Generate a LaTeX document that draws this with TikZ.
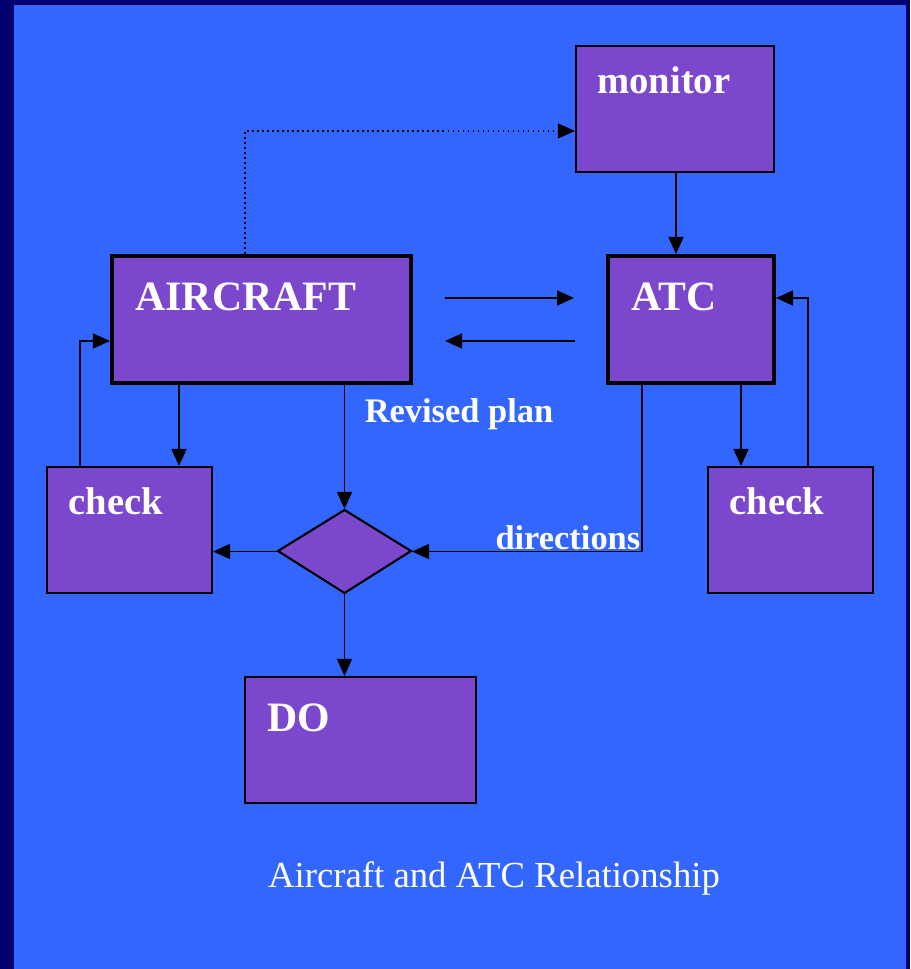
\documentclass[tikz,border=0pt]{standalone}
\usepackage{fontspec}
\setmainfont{Liberation Serif}
\usetikzlibrary{calc,positioning,arrows.meta,fit}
\definecolor{slidenavy}{RGB}{0,0,112}
\definecolor{slideblue}{RGB}{51,102,255}
\definecolor{boxpurple}{RGB}{123,71,204}
\makeatletter
\tikzset{
  fitting node/.style={
    inner sep=0pt,
    fill=none,
    draw=none,
    reset transform,
    fit={(\pgf@pathminx,\pgf@pathminy) (\pgf@pathmaxx,\pgf@pathmaxy)}
  },
  reset transform/.code={\pgftransformreset},
  thin box/.style={draw=black,fill=boxpurple,line width=1.2pt},
  thick box/.style={draw=black,fill=boxpurple,line width=2.3pt},
  conn/.style={draw=black,line width=0.85pt,-{Triangle[length=0.34cm,width=0.3cm]}},
  big label/.style={text=white,inner sep=0pt,anchor=base west,font=\fontsize{23.8pt}{28pt}\selectfont\bfseries},
  mid label/.style={text=white,inner sep=0pt,anchor=base west,font=\fontsize{22pt}{26pt}\selectfont\bfseries},
  arrow label/.style={text=white,inner sep=0pt,font=\fontsize{19.6pt}{24pt}\selectfont\bfseries}
}
\makeatother

\begin{document}
\begin{tikzpicture}[x=0.02cm,y=-0.02cm]
  % slide background
  \fill[slidenavy] (0,0) rectangle (910,969);
  \fill[slideblue] (14,5) rectangle (906,969);

  \draw[thin box] (576,46) rectangle (774,172) node[fitting node] (monitor) {};
  \draw[thick box] (112,256) rectangle (411,383) node[fitting node] (aircraft) {};
  \draw[thick box] (608,256) rectangle (774,383) node[fitting node] (atc) {};
  \draw[thin box] (47,467) rectangle (212,593) node[fitting node] (check_left) {};
  \draw[thin box] (708,467) rectangle (873,593) node[fitting node] (check_right) {};
  \draw[thin box] (245,677) rectangle (476,803) node[fitting node] (do_box) {};
  \draw[thin box] (278,551) -- (344.5,510) -- (411,551) -- (344.5,593) -- cycle node[fitting node] (decision) {};

  \node (monitor_label) [mid label] at (597,94) {monitor};
  \node (aircraft_label) [big label] at (135,310) {AIRCRAFT};
  \node (atc_label) [big label] at (631,310) {ATC};
  \node (check_left_label) [mid label] at (68,514) {check};
  \node (check_right_label) [mid label] at (729,514) {check};
  \node (do_label) [big label] at (267,731) {DO};

  \draw[conn,dotted] (aircraft.north -| 245,0) |- (monitor.west |- 0,131);
  \draw[conn] (monitor.south -| 676,0) -- (atc.north -| 676,0);
  \draw[conn,shorten <=0.64cm,shorten >=0.64cm] (aircraft.east |- 0,298) -- (atc.west |- 0,298);
  \draw[conn,shorten <=0.62cm,shorten >=0.64cm] (atc.west |- 0,341) -- (aircraft.east |- 0,341);
  \draw[conn] (aircraft.south -| 179,0) -- (check_left.north -| 179,0);
  \draw[conn] (check_left.north -| 80,0) |- (aircraft.west |- 0,341);
  \draw[conn] (aircraft.south -| decision.north) -- (decision.north)
    node (revised_label) [arrow label,anchor=base west] at (364,422) {Revised plan};
  \draw[conn] (decision.west) -- (check_left.east |- decision.west);
  \draw[conn] (decision.south) -- (decision.south |- do_box.north);
  \draw[conn] (atc.south -| 642,0) |- (decision.east)
    node (directions_label) [arrow label,anchor=base east] at (641,549) {directions};
  \draw[conn] (atc.south -| 741,0) -- (check_right.north -| 741,0);
  \draw[conn] (check_right.north -| 808,0) |- (atc.east |- 0,298);

  \node (caption) [text=white,inner sep=0pt,anchor=base,font=\fontsize{20.9pt}{25pt}\selectfont] at (494,887) {Aircraft and ATC Relationship};
\end{tikzpicture}
\end{document}
